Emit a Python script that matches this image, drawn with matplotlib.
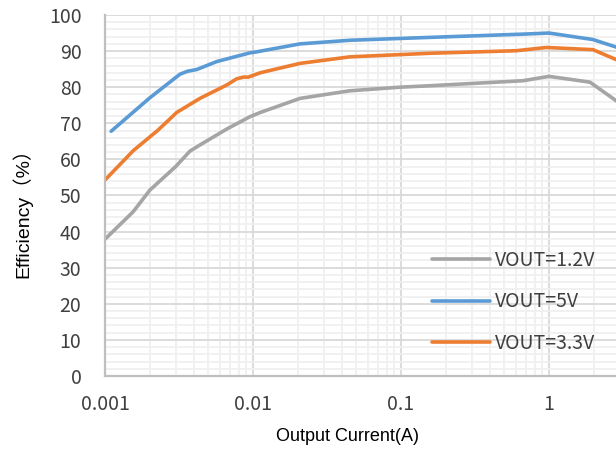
import numpy as np
import matplotlib.pyplot as plt
from matplotlib.ticker import FixedLocator, LogLocator, NullFormatter, MultipleLocator

plt.rcParams['font.family'] = ['Noto Sans CJK SC', 'DejaVu Sans']

# VOUT=1.2V
i_12 = [0.001, 0.00155, 0.00201, 0.003, 0.00375, 0.00438, 0.00664, 0.0095, 0.0112,
        0.0208, 0.045, 0.098, 0.157, 0.67, 1.0, 1.89, 2.9]
e_12 = [37.9, 45.5, 51.5, 58.0, 62.3, 64.0, 68.4, 71.8, 73.0,
        76.9, 79.0, 80.0, 80.4, 81.8, 83.0, 81.4, 76.0]

# VOUT=5V
i_5 = [0.0011, 0.002, 0.00321, 0.0036, 0.00417, 0.00569, 0.0095, 0.0106,
       0.0208, 0.0451, 0.157, 0.67, 1.0, 1.98, 2.9]
e_5 = [67.8, 77.0, 83.6, 84.4, 84.9, 87.1, 89.5, 89.8,
       92.0, 93.0, 93.8, 94.7, 95.0, 93.2, 91.0]

# VOUT=3.3V
i_33 = [0.001, 0.00155, 0.00228, 0.00305, 0.00438, 0.00664, 0.00774, 0.0086, 0.0093,
        0.0112, 0.0208, 0.045, 0.157, 0.6, 0.96, 1.98, 2.9]
e_33 = [54.3, 62.4, 68.1, 73.0, 76.9, 80.6, 82.3, 82.8, 82.8,
        84.0, 86.6, 88.4, 89.4, 90.1, 91.0, 90.4, 87.5]

x_ticks = [0.001, 0.01, 0.1, 1]
x_labels = ['0.001', '0.01', '0.1', '1']

fig = plt.figure(figsize=(6.16, 4.53), dpi=100)
ax = fig.add_axes([0.1705, 0.17, 0.8295, 0.7969])

ax.plot(i_12, e_12, color='#a5a5a5', lw=2.6, label='VOUT=1.2V', solid_capstyle='round')
ax.plot(i_5, e_5, color='#5b9bd5', lw=2.6, label='VOUT=5V', solid_capstyle='round')
ax.plot(i_33, e_33, color='#ed7d31', lw=2.6, label='VOUT=3.3V', solid_capstyle='round')

ax.set_xscale('log')
ax.set_xlim(0.001, 2.836)
ax.set_ylim(0, 100)
ax.xaxis.set_major_locator(FixedLocator(x_ticks))
ax.set_xticklabels(x_labels)
ax.xaxis.set_minor_locator(LogLocator(base=10, subs=np.arange(2, 10)))
ax.xaxis.set_minor_formatter(NullFormatter())
ax.yaxis.set_major_locator(MultipleLocator(10))
ax.yaxis.set_minor_locator(MultipleLocator(2))

ax.grid(which='major', color='#d9d9d9', lw=1.3)
ax.grid(which='minor', color='#f0f0f0', lw=1.3)
ax.set_axisbelow(True)

for s in ['top', 'right']:
    ax.spines[s].set_visible(False)
for s in ['left', 'bottom']:
    ax.spines[s].set_color('#bfbfbf')
    ax.spines[s].set_linewidth(1.6)

ax.tick_params(which='both', length=0)
ax.tick_params(axis='y', pad=17, labelsize=14, labelcolor='#404040')
ax.tick_params(axis='x', pad=13, labelsize=14, labelcolor='#404040')

label_font = ['Liberation Sans', 'Noto Sans CJK SC']
ax.set_xlabel('Output Current(A)', fontsize=13, color='#000000', va='center', family=label_font)
ax.xaxis.set_label_coords(0.4736, -0.169)
ax.set_ylabel('Efficiency（%）', fontsize=14, color='#000000', va='center', family=label_font)
ax.yaxis.set_label_coords(-0.162, 0.465)

leg = ax.legend(loc='center left', bbox_to_anchor=(0.625, 0.205), frameon=False,
                prop={'size': 14}, handlelength=3.0,
                handletextpad=0.25, labelspacing=1.05, borderaxespad=0)
for t in leg.get_texts():
    t.set_color('#404040')

fig.savefig('out.png', dpi=100)
